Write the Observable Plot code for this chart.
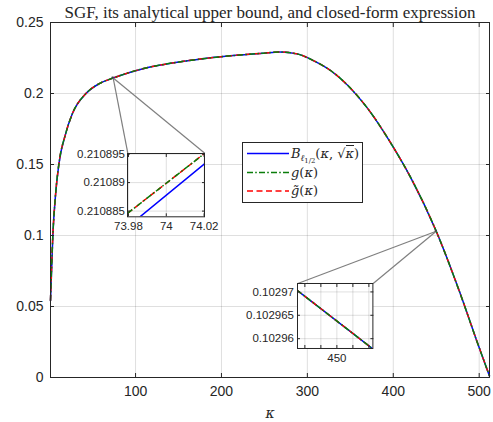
<!DOCTYPE html>
<html><head><meta charset="utf-8">
<script src="https://cdn.jsdelivr.net/npm/d3@7"></script>
<script src="https://cdn.jsdelivr.net/npm/@observablehq/plot@0.6"></script>
<style>
body{margin:0;background:#fff}
#wrap{position:relative;width:493px;height:422px;overflow:hidden;background:#fff}
#legend{position:absolute;box-sizing:border-box;background:#fff;border:1px solid #262626}
#legend .lab{position:absolute;font-family:"DejaVu Serif",serif;font-size:13px;color:#262626;white-space:nowrap;transform:translateY(-50%);line-height:16px}
#legend i{font-family:"DejaVu Serif",serif;font-style:italic}
#legend sub{font-size:70%;vertical-align:-0.3em;line-height:0}
</style></head><body><div id="wrap"></div>
<script>
// ---------- data ----------
const titleText = "SGF, its analytical upper bound, and closed-form expression";
const xLabelText = "κ";
const kappa = [1, 3.8, 7, 10.8, 18.6, 26.4, 42, 57.3, 74, 94, 112, 133, 172, 210, 249, 268, 288, 307, 327, 369, 400, 420, 450, 478, 497, 512];
const sgfB  = [0.054, 0.101, 0.1296, 0.1505, 0.1716, 0.1857, 0.1998, 0.2068, 0.2109, 0.2150, 0.2180, 0.2205, 0.2240, 0.2265, 0.2284, 0.2292, 0.2279, 0.2232, 0.2162, 0.1904, 0.1622, 0.1411, 0.10297, 0.0589, 0.0261, 0.001];
const boundG = [0.054, 0.101, 0.1296, 0.1505, 0.1716, 0.1857, 0.1998, 0.2068, 0.2109, 0.2150, 0.2180, 0.2205, 0.2240, 0.2265, 0.2284, 0.2292, 0.2279, 0.2232, 0.2162, 0.1904, 0.1622, 0.1411, 0.10297, 0.0589, 0.0261, 0.001];
const closedGt = [0.054, 0.101, 0.1296, 0.1505, 0.1716, 0.1857, 0.1998, 0.2068, 0.2109, 0.2150, 0.2180, 0.2205, 0.2240, 0.2265, 0.2284, 0.2292, 0.2279, 0.2232, 0.2162, 0.1904, 0.1622, 0.1411, 0.10297, 0.0589, 0.0261, 0.001];

const xTicks = [100, 200, 300, 400, 500];
const xTickLabels = ["100", "200", "300", "400", "500"];
const yTicks = [0, 0.05, 0.1, 0.15, 0.2, 0.25];
const yTickLabels = ["0", "0.05", "0.1", "0.15", "0.2", "0.25"];

// inset 1 (around kappa = 74)
const zoom1Kappa = [73.9795, 74.0202];
const zoom1B  = [0.2108822, 0.2108933];
const zoom1G  = [0.2108846, 0.2108951];
const zoom1Gt = [0.2108846, 0.2108951];
const zoom1XDomain = [73.9795, 74.0202];
const zoom1YDomain = [0.210884, 0.2108951];
const zoom1XTicks = [73.98, 74, 74.02];
const zoom1XLabels = ["73.98", "74", "74.02"];
const zoom1YTicks = [0.210885, 0.21089, 0.210895];
const zoom1YLabels = ["0.210885", "0.21089", "0.210895"];

// inset 2 (around kappa = 450)
const zoom2Kappa = [449.995, 450.0045];
const zoom2B  = [0.1029704, 0.1029578];
const zoom2G  = [0.1029704, 0.1029578];
const zoom2Gt = [0.1029704, 0.1029578];
const zoom2XDomain = [449.99508, 450.0045];
const zoom2YDomain = [0.1029579, 0.1029718];
const zoom2XTicks = [449.996, 449.998, 450, 450.002, 450.004];
const zoom2XLabels = ["", "", "450", "", ""];
const zoom2YTicks = [0.10296, 0.102965, 0.10297];
const zoom2YLabels = ["0.10296", "0.102965", "0.10297"];

const legendItems = ["B", "g", "gt"];

// ---------- styles & layout ----------
const W = 493, H = 422, mL = 50, mR = 4, mT = 22, mB = 45;
const axisColor = "#262626";
const blue = "#0000ff", green = "#0a7d0a", red = "#ff0000";
const dashRed = "6,3.5", dashGreen = "6,2.2,1.6,2.2";
const sans = "Liberation Sans, Arial, Helvetica, sans-serif";
const serif = "Liberation Serif, Times New Roman, serif";
const mathSerif = "DejaVu Serif, serif";
const inset1Box = {left: 127.3, top: 152.7, width: 77, height: 63.3};
const inset2Box = {left: 297.3, top: 283, width: 75.4, height: 65};
const legendBox = {left: 242, top: 142.3, width: 121, height: 61};

function rowsOf(k, b, g, gt) { return k.map((d, i) => ({k: d, b: b[i], g: g[i], gt: gt[i]})); }
function fmtMap(t, l) { const m = new Map(t.map((d, i) => [d, l[i]])); return d => m.get(d) ?? ""; }

function lineMarks(rows, extra) {
  return [
    Plot.line(rows, {x: "k", y: "b", stroke: blue, strokeWidth: 1.5, ...extra}),
    Plot.line(rows, {x: "k", y: "gt", stroke: red, strokeWidth: 1.5, strokeDasharray: dashRed, strokeLinecap: "butt", ...extra}),
    Plot.line(rows, {x: "k", y: "g", stroke: green, strokeWidth: 1.5, strokeDasharray: dashGreen, strokeLinecap: "butt", ...extra})
  ];
}

function boxAxes(xT, xL, yT, yL, tick, padX, padY) {
  return [
    Plot.axisX(xT, {anchor: "bottom", tickSize: -tick, fill: "none", stroke: axisColor, label: null}),
    Plot.axisX(xT, {anchor: "top", tickSize: -tick, fill: "none", stroke: axisColor, label: null}),
    Plot.axisY(yT, {anchor: "left", tickSize: -tick, fill: "none", stroke: axisColor, label: null}),
    Plot.axisY(yT, {anchor: "right", tickSize: -tick, fill: "none", stroke: axisColor, label: null}),
    Plot.axisX(xT, {anchor: "bottom", tickSize: 0, tickPadding: padX, tickFormat: fmtMap(xT, xL), fill: axisColor, label: null}),
    Plot.axisY(yT, {anchor: "left", tickSize: 0, tickPadding: padY, tickFormat: fmtMap(yT, yL), fill: axisColor, label: null})
  ];
}

const wrap = document.getElementById("wrap");

// scales used to connect the zoom spots to the inset boxes
const xs = Plot.scale({x: {domain: [1, 512], range: [mL, W - mR]}});
const ys = Plot.scale({y: {domain: [0, 0.25], range: [H - mB, mT]}});
const insets = [
  {box: inset1Box, xd: zoom1XDomain, yd: zoom1YDomain},
  {box: inset2Box, xd: zoom2XDomain, yd: zoom2YDomain}
];
const connectors = [];
for (const s of insets) {
  const cx = (s.xd[0] + s.xd[1]) / 2, cy = (s.yd[0] + s.yd[1]) / 2;
  for (const px of [s.box.left, s.box.left + s.box.width]) {
    connectors.push({x1: cx, y1: cy, x2: xs.invert(px), y2: ys.invert(s.box.top)});
  }
}

const main = Plot.plot({
  width: W, height: H,
  marginLeft: mL, marginRight: mR, marginTop: mT, marginBottom: mB,
  style: {fontFamily: sans, fontSize: "14px", color: axisColor, background: "white", overflow: "visible"},
  x: {domain: [1, 512], label: null},
  y: {domain: [0, 0.25], label: null},
  marks: [
    Plot.gridX(xTicks, {stroke: axisColor, strokeOpacity: 0.15}),
    Plot.gridY(yTicks, {stroke: axisColor, strokeOpacity: 0.15}),
    ...lineMarks(rowsOf(kappa, sgfB, boundG, closedGt), {curve: "monotone-x"}),
    Plot.link(connectors, {x1: "x1", y1: "y1", x2: "x2", y2: "y2", stroke: "#7f7f7f", strokeWidth: 1.2}),
    Plot.rect(insets, {x1: d => d.xd[0], x2: d => d.xd[1], y1: d => d.yd[0], y2: d => d.yd[1], fill: "none", stroke: "#404040", strokeWidth: 2}),
    ...boxAxes(xTicks, xTickLabels, yTicks, yTickLabels, 4, 9, 7),
    Plot.frame({stroke: axisColor, strokeWidth: 1}),
    Plot.text([titleText], {text: d => d, frameAnchor: "top", lineAnchor: "bottom", dy: -5, fontFamily: serif, fontSize: 17, fill: axisColor}),
    Plot.text([xLabelText], {text: d => d, frameAnchor: "bottom", lineAnchor: "middle", dy: 36, fontFamily: mathSerif, fontStyle: "italic", fontSize: 14, fill: axisColor})
  ]
});
wrap.appendChild(main);

// ---------- insets ----------
function makeInset(box, xd, yd, xT, xL, yT, yL, rows, padY) {
  const m = {l: 64, r: 10, t: 4, b: 20};
  const p = Plot.plot({
    width: box.width + m.l + m.r, height: box.height + m.t + m.b,
    marginLeft: m.l, marginRight: m.r, marginTop: m.t, marginBottom: m.b,
    style: {fontFamily: sans, fontSize: "11.5px", color: axisColor, background: "transparent", overflow: "visible"},
    x: {domain: xd, label: null},
    y: {domain: yd, label: null},
    marks: [
      Plot.frame({fill: "white", stroke: null}),
      Plot.gridX(xT, {stroke: axisColor, strokeOpacity: 0.15}),
      Plot.gridY(yT, {stroke: axisColor, strokeOpacity: 0.15}),
      ...lineMarks(rows, {clip: true}),
      ...boxAxes(xT, xL, yT, yL, 3, 5, padY),
      Plot.frame({stroke: axisColor, strokeWidth: 1})
    ]
  });
  p.style.position = "absolute";
  p.style.left = (box.left - m.l) + "px";
  p.style.top = (box.top - m.t) + "px";
  wrap.appendChild(p);
}
makeInset(inset1Box, zoom1XDomain, zoom1YDomain, zoom1XTicks, zoom1XLabels, zoom1YTicks, zoom1YLabels, rowsOf(zoom1Kappa, zoom1B, zoom1G, zoom1Gt), 2.5);
makeInset(inset2Box, zoom2XDomain, zoom2YDomain, zoom2XTicks, zoom2XLabels, zoom2YTicks, zoom2YLabels, rowsOf(zoom2Kappa, zoom2B, zoom2G, zoom2Gt), 3.5);

// ---------- legend ----------
const lg = document.createElement("div");
lg.id = "legend";
Object.assign(lg.style, {left: legendBox.left + "px", top: legendBox.top + "px", width: legendBox.width + "px", height: legendBox.height + "px"});
const rowY = [10.5, 29.5, 48];
const legendStyles = {
  B: {stroke: blue, dash: null},
  g: {stroke: green, dash: dashGreen},
  gt: {stroke: red, dash: dashRed}
};
const legendHTML = {
  B: '<i>B</i><sub><i>ℓ</i><sub style="font-size:75%;vertical-align:-0.25em">1/2</sub></sub>(<i>κ</i>, √<span style="border-top:1px solid #262626"><i>κ</i></span>)',
  g: '<i>g</i>(<i>κ</i>)',
  gt: '<i>g̃</i>(<i>κ</i>)'
};
const svgNS = "http://www.w3.org/2000/svg";
const ls = document.createElementNS(svgNS, "svg");
ls.setAttribute("width", legendBox.width - 2);
ls.setAttribute("height", legendBox.height - 2);
ls.style.position = "absolute"; ls.style.left = "0"; ls.style.top = "0";
legendItems.forEach((key, i) => {
  const ln = document.createElementNS(svgNS, "line");
  ln.setAttribute("x1", 4); ln.setAttribute("x2", 46);
  ln.setAttribute("y1", rowY[i]); ln.setAttribute("y2", rowY[i]);
  ln.setAttribute("stroke", legendStyles[key].stroke);
  ln.setAttribute("stroke-width", 1.5);
  if (legendStyles[key].dash) ln.setAttribute("stroke-dasharray", legendStyles[key].dash);
  ls.appendChild(ln);
  const t = document.createElement("div");
  t.className = "lab";
  t.style.left = "48px";
  t.style.top = rowY[i] + "px";
  t.innerHTML = legendHTML[key];
  lg.appendChild(t);
});
lg.appendChild(ls);
wrap.appendChild(lg);
</script>
</body></html>
